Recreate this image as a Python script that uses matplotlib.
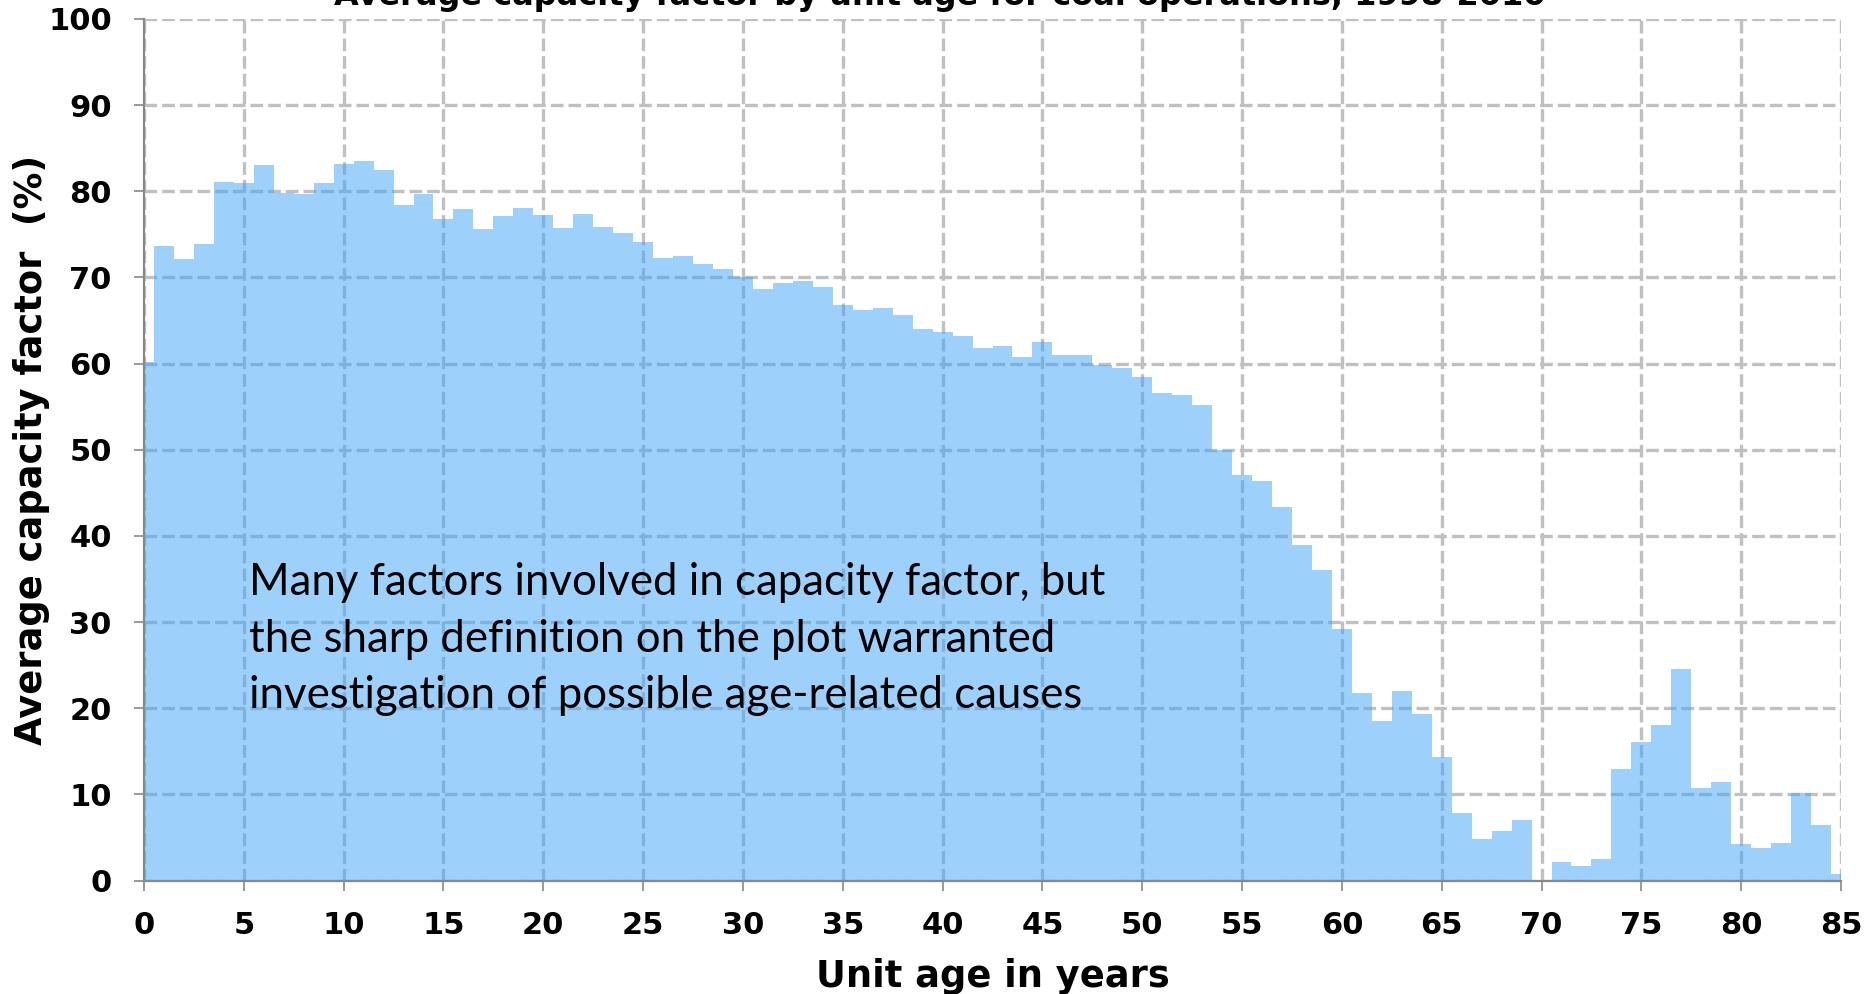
import matplotlib
matplotlib.use("Agg")
import matplotlib.pyplot as plt
import numpy as np

# ---- data ----
ages = list(range(0, 86))
capacity_factor = [
    60.2, 73.6, 72.1, 73.9, 81.1, 81.0, 83.1, 79.8, 79.7, 81.0,
    83.2, 83.5, 82.5, 78.4, 79.7, 76.8, 78.0, 75.6, 77.1, 78.1,
    77.3, 75.7, 77.4, 75.8, 75.2, 74.1, 72.3, 72.5, 71.6, 71.0,
    70.1, 68.7, 69.4, 69.6, 68.9, 66.8, 66.2, 66.5, 65.6, 64.0,
    63.7, 63.2, 61.8, 62.1, 60.8, 62.5, 61.0, 61.0, 59.8, 59.5,
    58.5, 56.6, 56.4, 55.2, 50.0, 47.1, 46.4, 43.4, 38.9, 36.0,
    29.2, 21.8, 18.5, 22.0, 19.3, 14.3, 7.8, 4.8, 5.7, 7.0,
    0.0, 2.2, 1.7, 2.5, 12.9, 16.1, 18.0, 24.5, 10.7, 11.4,
    4.2, 3.8, 4.3, 10.1, 6.4, 0.8,
]
x_ticks = list(range(0, 86, 5))
y_ticks = list(range(0, 101, 10))
title = "Average capacity factor by unit age for coal operations, 1998-2010"
x_label = "Unit age in years"
y_label = "Average capacity factor  (%)"
note_lines = [
    "Many factors involved in capacity factor, but",
    "the sharp definition on the plot warranted",
    "investigation of possible age-related causes",
]

W, H = 1866, 994
fig = plt.figure(figsize=(W / 100, H / 100), dpi=100)
ax = fig.add_axes([144 / W, 1 - 880.5 / H, (1841 - 144) / W, (880.5 - 19) / H])

grid_color = "#c0c0c0"
axis_color = "#888888"

ax.bar(ages, capacity_factor, width=1.0, color="#3da5fb", alpha=0.5,
       linewidth=0, antialiased=False, zorder=3)

ax.set_xlim(0, 85)
ax.set_ylim(0, 100)
ax.set_xticks(x_ticks)
ax.set_yticks(y_ticks)
ax.grid(True, color=grid_color, linewidth=2.4, linestyle=(0, (3.8, 1.5)), zorder=1)
ax.set_axisbelow(True)

for s in ["top", "right"]:
    ax.spines[s].set_visible(False)
for s in ["left", "bottom"]:
    ax.spines[s].set_color(axis_color)
    ax.spines[s].set_linewidth(1.6)
    ax.spines[s].set_zorder(4)

ax.tick_params(axis="both", direction="out", length=7.2, width=1.2, color=axis_color,
               labelsize=22)
ax.tick_params(axis="x", pad=15)
ax.tick_params(axis="y", pad=16)
for lab in ax.get_xticklabels() + ax.get_yticklabels():
    lab.set_fontweight("bold")

ax.set_xlabel(x_label, fontsize=26.5, fontweight="bold", va="center")
ax.xaxis.set_label_coords(0.5, -0.111)
ax.set_ylabel(y_label, fontsize=26.5, fontweight="bold", va="center")
ax.yaxis.set_label_coords((32 - 144) / 1697, 0.5)

fig.text(940 / W, 1 - 5 / H, title, ha="center", va="baseline",
         fontsize=23, fontweight="bold")

baselines_px = [595, 651.7, 708.3]
for line, ypx in zip(note_lines, baselines_px):
    ax.text((249 - 144) / 1697, (880.5 - ypx) / 861.5, line, transform=ax.transAxes,
            ha="left", va="baseline", fontsize=31.5, family="Lato", zorder=5)

fig.savefig("out.png", dpi=100)
